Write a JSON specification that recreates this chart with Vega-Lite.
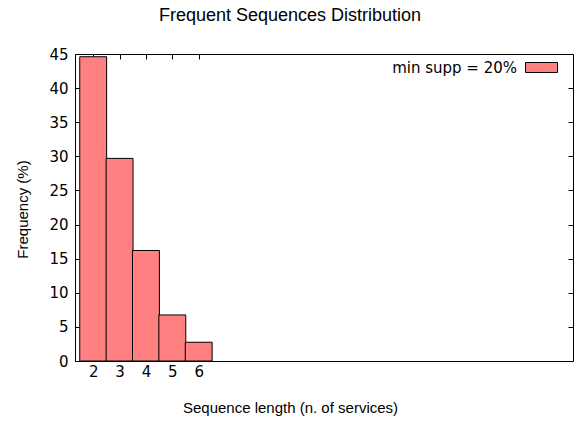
{
  "$schema": "https://vega.github.io/schema/vega-lite/v6.json",
  "width": 498,
  "height": 307,
  "autosize": {"type": "none"},
  "padding": {"left": 75, "top": 54, "right": 8, "bottom": 62},
  "background": "white",
  "config": {
    "font": "Liberation Sans",
    "view": {"stroke": "#000000", "strokeWidth": 1},
    "axis": {"domain": false, "grid": false, "tickColor": "#000000", "tickSize": -5, "labelFont": "DejaVu Sans", "labelFontSize": 15, "labelColor": "#000000", "titleFont": "Liberation Sans", "titleFontSize": 15, "titleFontWeight": "normal", "titleColor": "#000000", "labelFlush": false, "labelOverlap": false}
  },
  "title": {"text": "Frequent Sequences Distribution", "fontSize": 18, "font": "Liberation Sans", "fontWeight": "normal", "anchor": "middle", "dx": -34, "baseline": "alphabetic", "offset": 8, "color": "#000000"},
  "data": {"values": [
    {"length": 2, "freq": 44.6},
    {"length": 3, "freq": 29.7},
    {"length": 4, "freq": 16.2},
    {"length": 5, "freq": 6.75},
    {"length": 6, "freq": 2.75}
  ]},
  "layer": [
    {
      "mark": {"type": "bar", "size": 26.9, "stroke": "#000000", "strokeWidth": 1},
      "encoding": {
        "x": {"field": "length", "type": "quantitative", "scale": {"domain": [1.5, 20], "nice": false, "zero": false},
              "axis": {"orient": "bottom", "values": [2, 3, 4, 5, 6], "title": "Sequence length (n. of services)", "labelPadding": 8, "titleX": 215, "titleY": 51, "titleBaseline": "alphabetic", "titleAnchor": null, "titleAlign": "center"}},
        "y": {"field": "freq", "type": "quantitative", "scale": {"domain": [0, 45], "nice": false},
              "axis": {"orient": "left", "values": [0, 5, 10, 15, 20, 25, 30, 35, 40, 45], "title": "Frequency (%)", "labelPadding": 12, "titleX": -48, "titleY": 155, "titleBaseline": "alphabetic", "titleAlign": "center", "titleAngle": -90}},
        "color": {"datum": "min supp = 20%", "type": "nominal", "scale": {"range": ["#ff8080"]},
                  "legend": {"orient": "none", "legendX": 450, "legendY": -3, "title": null, "symbolType": "M-1,-0.3125H1V0.3125H-1Z", "symbolSize": 1024, "symbolStrokeColor": "#000000", "symbolStrokeWidth": 1, "symbolOpacity": 1, "labelAlign": "right", "labelOffset": -41, "labelFontSize": 15, "labelFont": "DejaVu Sans", "labelColor": "#000000", "padding": 0}}
      }
    },
    {
      "mark": {"type": "point", "opacity": 0},
      "encoding": {
        "x": {"field": "length", "type": "quantitative", "axis": {"orient": "top", "values": [2, 3, 4, 5, 6], "labels": false, "title": null}},
        "y": {"field": "freq", "type": "quantitative", "axis": {"orient": "right", "values": [5, 10, 15, 20, 25, 30, 35, 40], "labels": false, "title": null}}
      }
    }
  ],
  "resolve": {"axis": {"x": "independent", "y": "independent"}}
}
